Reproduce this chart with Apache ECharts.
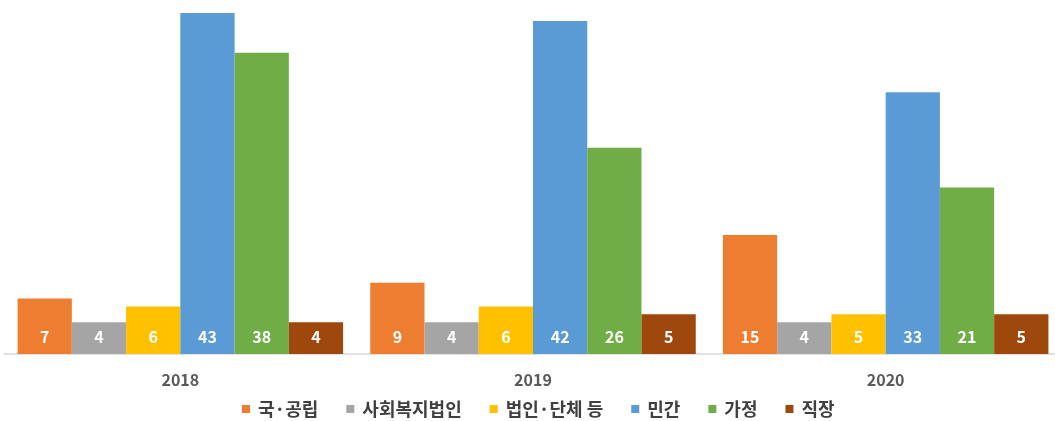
<!DOCTYPE html>
<html>
<head>
<meta charset="utf-8">
<script src="https://cdn.jsdelivr.net/npm/echarts@6/dist/echarts.min.js"></script>
<style>
html, body { margin: 0; padding: 0; background: #fff; }
#chart { width: 1055px; height: 421px; }
</style>
</head>
<body>
<div id="chart"></div>
<script>
const years = ['2018', '2019', '2020'];
const seriesNames = ['국·공립', '사회복지법인', '법인·단체 등', '민간', '가정', '직장'];
const publicVals = [7, 9, 15];
const welfareVals = [4, 4, 4];
const corpVals = [6, 6, 5];
const privateVals = [43, 42, 33];
const homeVals = [38, 26, 21];
const workVals = [4, 5, 5];
const colors = ['#ED7D31', '#A5A5A5', '#FFC000', '#5B9BD5', '#70AD47', '#9E480E'];

document.addEventListener('DOMContentLoaded', () => {
    const chart = echarts.init(document.getElementById('chart'));
    const allVals = [publicVals, welfareVals, corpVals, privateVals, homeVals, workVals];
    const font = '"Noto Sans CJK KR", "Noto Sans", sans-serif';
    const option = {
        animation: false,
        color: colors,
        grid: { left: 4, width: 1058, top: 13, bottom: 67, outerBoundsMode: 'none' },
        legend: {
            bottom: -2,
            left: 237,
            icon: 'rect',
            itemWidth: 8,
            itemHeight: 8,
            itemGap: 28,
            textStyle: { color: '#404040', fontSize: 18, fontWeight: 'bold', fontFamily: font, padding: [0, 0, 0, 3] }
        },
        xAxis: {
            type: 'category',
            data: years,
            axisLine: { lineStyle: { color: '#D9D9D9', width: 1.5 } },
            axisTick: { show: false },
            axisLabel: { color: '#595959', fontSize: 16, fontWeight: 'bold', margin: 18, fontFamily: font }
        },
        yAxis: {
            type: 'value',
            min: 0,
            max: 43,
            show: false,
            splitLine: { show: false }
        },
        series: seriesNames.map((name, i) => ({
            name: name,
            type: 'bar',
            data: allVals[i],
            barGap: 0,
            barCategoryGap: '7.7%',
            label: {
                show: true,
                position: 'insideBottom',
                distance: 9,
                color: '#fff',
                fontSize: 16,
                fontWeight: 'bold',
                fontFamily: font
            }
        }))
    };
    chart.setOption(option);
    window.addEventListener('resize', () => chart.resize());
});
</script>
</body>
</html>
